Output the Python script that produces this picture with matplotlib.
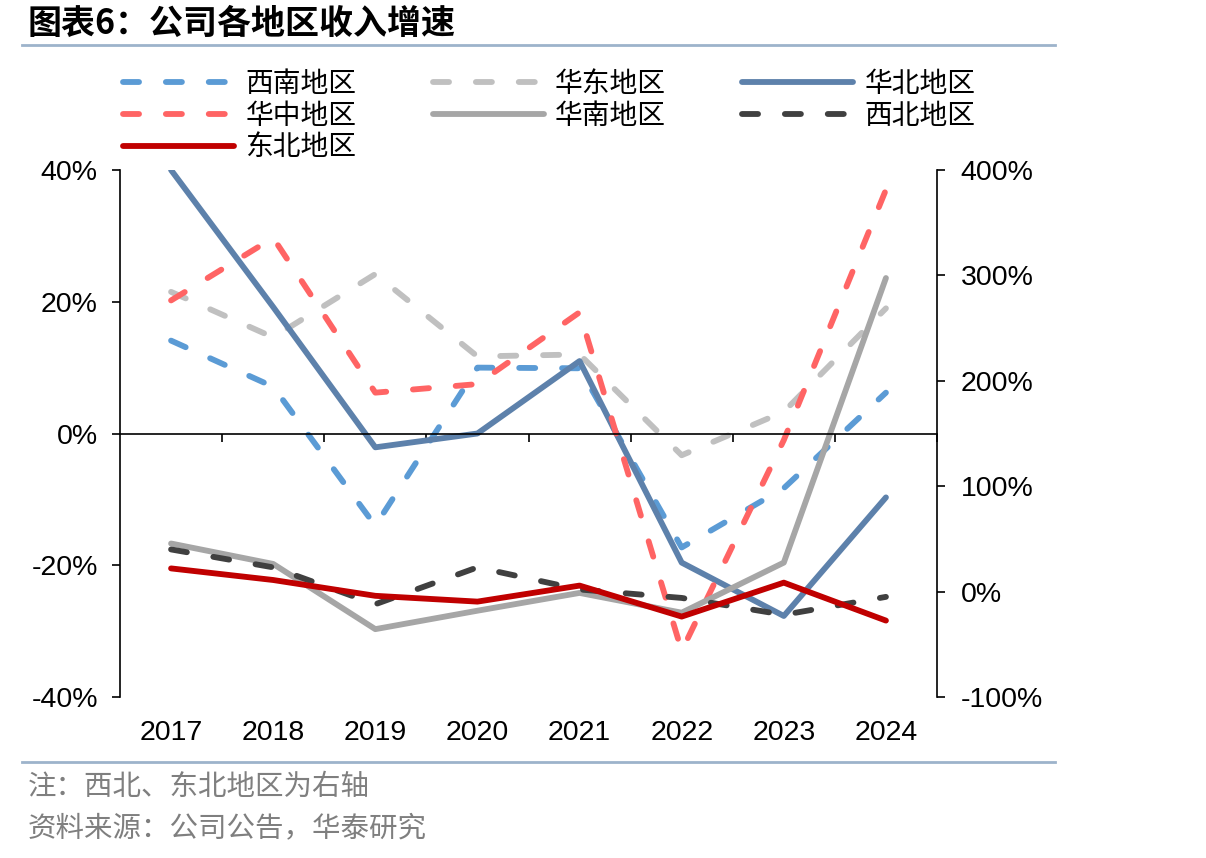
import numpy as np
import matplotlib
matplotlib.use('Agg')
import matplotlib.pyplot as plt
from matplotlib.lines import Line2D
from matplotlib.ticker import FuncFormatter

plt.rcParams['font.family'] = ['Liberation Sans', 'Noto Sans CJK SC']

# data (%)
years = ['2017', '2018', '2019', '2020', '2021', '2022', '2023', '2024']
southwest = [14.1, 7.1, -14.0, 10.0, 9.9, -17.3, -8.3, 6.2]
east = [21.5, 14.6, 24.2, 11.7, 12.0, -3.3, 3.3, 19.0]
north = [40.0, 19.2, -2.1, 0.0, 11.0, -19.6, -27.7, -9.7]
central = [20.2, 29.7, 6.2, 7.5, 18.4, -33.0, -1.0, 37.0]
south = [-16.7, -19.8, -29.7, -26.9, -24.2, -27.2, -19.6, 23.6]
# right axis
northwest = [40.0, 23.0, -12.0, 23.0, 2.0, -6.0, -22.0, -5.0]
northeast = [22.0, 11.0, -4.0, -9.5, 5.7, -23.7, 8.5, -27.5]

W, H = 1206, 858
fig = plt.figure(figsize=(W / 100, H / 100), dpi=100)
ax = fig.add_axes([120 / W, 1 - 697 / H, (937 - 120) / W, (697 - 170) / H])
ax2 = ax.twinx()

xi = np.arange(len(years))
lw = 4.2
dash = (2.75, 4.6)


def draw(a, vals, color, label, dashed):
    kw = dict(color=color, lw=lw, label=label, solid_capstyle='round',
              solid_joinstyle='round', dash_capstyle='round')
    if dashed:
        kw['dashes'] = dash
    return a.plot(xi, vals, **kw)[0]


h_sw = draw(ax, southwest, '#5B9BD5', '西南地区', True)
h_e = draw(ax, east, '#C0C0C0', '华东地区', True)
h_n = draw(ax, north, '#5D81AB', '华北地区', False)
h_c = draw(ax, central, '#FF6464', '华中地区', True)
h_s = draw(ax, south, '#A6A6A6', '华南地区', False)
h_nw = draw(ax2, northwest, '#404040', '西北地区', True)
h_ne = draw(ax2, northeast, '#C00000', '东北地区', False)

ax.set_xlim(-0.5, len(years) - 0.5)
ax.set_ylim(-40, 40)
ax2.set_ylim(-100, 400)
ax.set_yticks([-40, -20, 0, 20, 40])
ax2.set_yticks([-100, 0, 100, 200, 300, 400])
pct = FuncFormatter(lambda v, p: f'{v:.0f}%')
ax.yaxis.set_major_formatter(pct)
ax2.yaxis.set_major_formatter(pct)

for s in ['top', 'right']:
    ax.spines[s].set_visible(False)
for s in ['top', 'left', 'bottom']:
    ax2.spines[s].set_visible(False)
ax.spines['bottom'].set_position(('data', 0))
for sp in [ax.spines['left'], ax.spines['bottom'], ax2.spines['right']]:
    sp.set_linewidth(1.2)
    sp.set_color('black')

ax.set_xticks(np.arange(0.5, len(years), 1))
ax.tick_params(axis='x', direction='out', length=6, width=1.2, labelbottom=False)
ax.tick_params(axis='y', direction='out', length=6, width=1.2, labelsize=20.5, pad=10)
ax2.tick_params(axis='y', direction='out', length=6, width=1.2, labelsize=20.5, pad=11)

for i, y in enumerate(years):
    ax.text(i, -0.068, y, transform=ax.get_xaxis_transform(),
            ha='center', va='center', fontsize=20.5)

cjk = {'family': 'Noto Sans CJK SC', 'size': 20}
handles = [h_sw, h_c, h_ne, h_e, h_s, h_n, h_nw]
fig.legend(handles, [h.get_label() for h in handles], ncol=3, loc='upper left',
           bbox_to_anchor=(123 / W, 1 - 69 / H), frameon=False, prop=cjk,
           handlelength=4.0, handletextpad=0.4, columnspacing=2.75,
           labelspacing=0.06, borderpad=0, borderaxespad=0)

fig.text(28 / W, 1 - 23 / H, '图表6：公司各地区收入增速', fontsize=24.5,
         fontweight='bold', family='Noto Sans CJK SC', va='center', ha='left')
for yy in [45, 762]:
    fig.add_artist(Line2D([22 / W, 1055 / W], [1 - yy / H] * 2,
                          color='#9DB3CB', lw=2))
fig.text(28 / W, 1 - 787 / H, '注：西北、东北地区为右轴', fontsize=20.5,
         family='Noto Sans CJK SC', color='#7F7F7F', va='center', ha='left')
fig.text(28 / W, 1 - 828 / H, '资料来源：公司公告，华泰研究', fontsize=20.5,
         family='Noto Sans CJK SC', color='#7F7F7F', va='center', ha='left')

fig.savefig('out.png', dpi=100)
